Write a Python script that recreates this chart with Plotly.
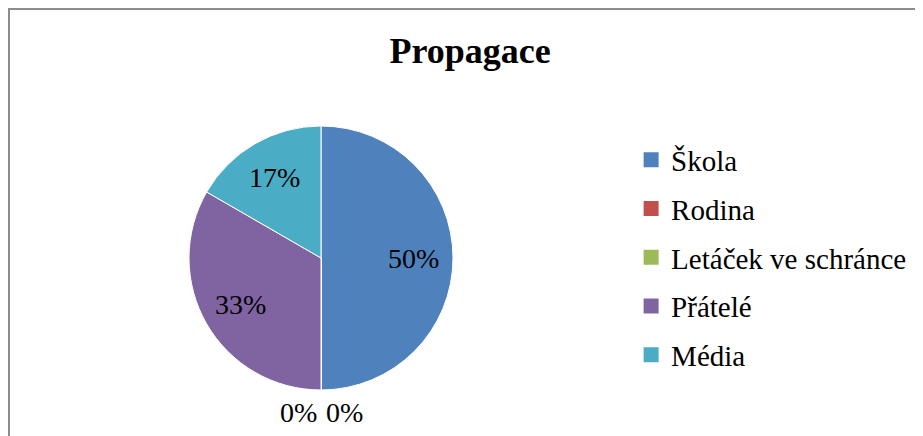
import math
import plotly.graph_objects as go

title_text = "Propagace"
categories = ["Škola", "Rodina", "Letáček ve schránce", "Přátelé", "Média"]
values = [3, 0, 0, 2, 1]
colors = ["#4F81BD", "#C0504D", "#9BBB59", "#8064A2", "#4BACC6"]

FONT = "Liberation Serif, Times New Roman, serif"
# the page body adds an 8px margin, so the figure is 8px smaller than the window
W, H = 915, 428
CX, CY, R = 313, 250, 132  # pie centre / radius in figure pixels

fig = go.Figure()
fig.add_trace(go.Pie(
    labels=categories,
    values=values,
    sort=False,
    direction="clockwise",
    rotation=0,
    marker=dict(colors=colors, line=dict(color="#FFFFFF", width=1)),
    textinfo="none",
    showlegend=False,
    hoverinfo="label+percent",
    domain=dict(x=[(CX - R) / W, (CX + R) / W],
                y=[(H - CY - R) / H, (H - CY + R) / H]),
))

for cat, col in zip(categories, colors):
    fig.add_trace(go.Scatter(
        x=[None], y=[None], mode="markers", name=cat,
        legendgroup=cat,
        marker=dict(symbol="square", size=15, color=col),
    ))

# data labels computed from the values (Excel-like placement)
total = sum(values)
annotations = []
cum = 0
zero_idx = 0
for v in values:
    mid = (cum + v / 2) / total * 2 * math.pi
    cum += v
    pct = f"{round(v / total * 100)}%"
    if v > 0:
        rr = 0.7 * R
        xshift = 0
    else:
        rr = 1.17 * R
        xshift = -23 if zero_idx == 0 else 23
        zero_idx += 1
    px = CX + rr * math.sin(mid)
    py = CY - rr * math.cos(mid)
    annotations.append(dict(
        text=pct, x=px / W, y=1 - py / H, xref="paper", yref="paper",
        xanchor="center", yanchor="middle", showarrow=False, xshift=xshift,
        font=dict(family=FONT, size=28, color="#000000"),
    ))

fig.update_layout(
    width=W, height=H,
    margin=dict(l=0, r=0, t=0, b=0),
    paper_bgcolor="#FFFFFF",
    plot_bgcolor="#FFFFFF",
    font=dict(family=FONT, color="#000000"),
    title=dict(text="<b>" + title_text + "</b>", x=0.505, xanchor="center",
               y=1 - 42 / H, yanchor="middle",
               font=dict(family=FONT, size=36, color="#000000")),
    xaxis=dict(visible=False),
    yaxis=dict(visible=False),
    legend=dict(x=0.681, xanchor="left", y=0.417, yanchor="middle",
                font=dict(family=FONT, size=29, color="#000000"),
                traceorder="grouped", tracegroupgap=8, itemclick=False,
                bgcolor="rgba(0,0,0,0)"),
    annotations=annotations,
    shapes=[dict(type="rect", xref="paper", yref="paper",
                 x0=1 / W, x1=1.05, y0=-0.05, y1=1 - 1 / H,
                 line=dict(color="#8C8C8C", width=2), layer="below")],
)

fig.write_html("out.html")
